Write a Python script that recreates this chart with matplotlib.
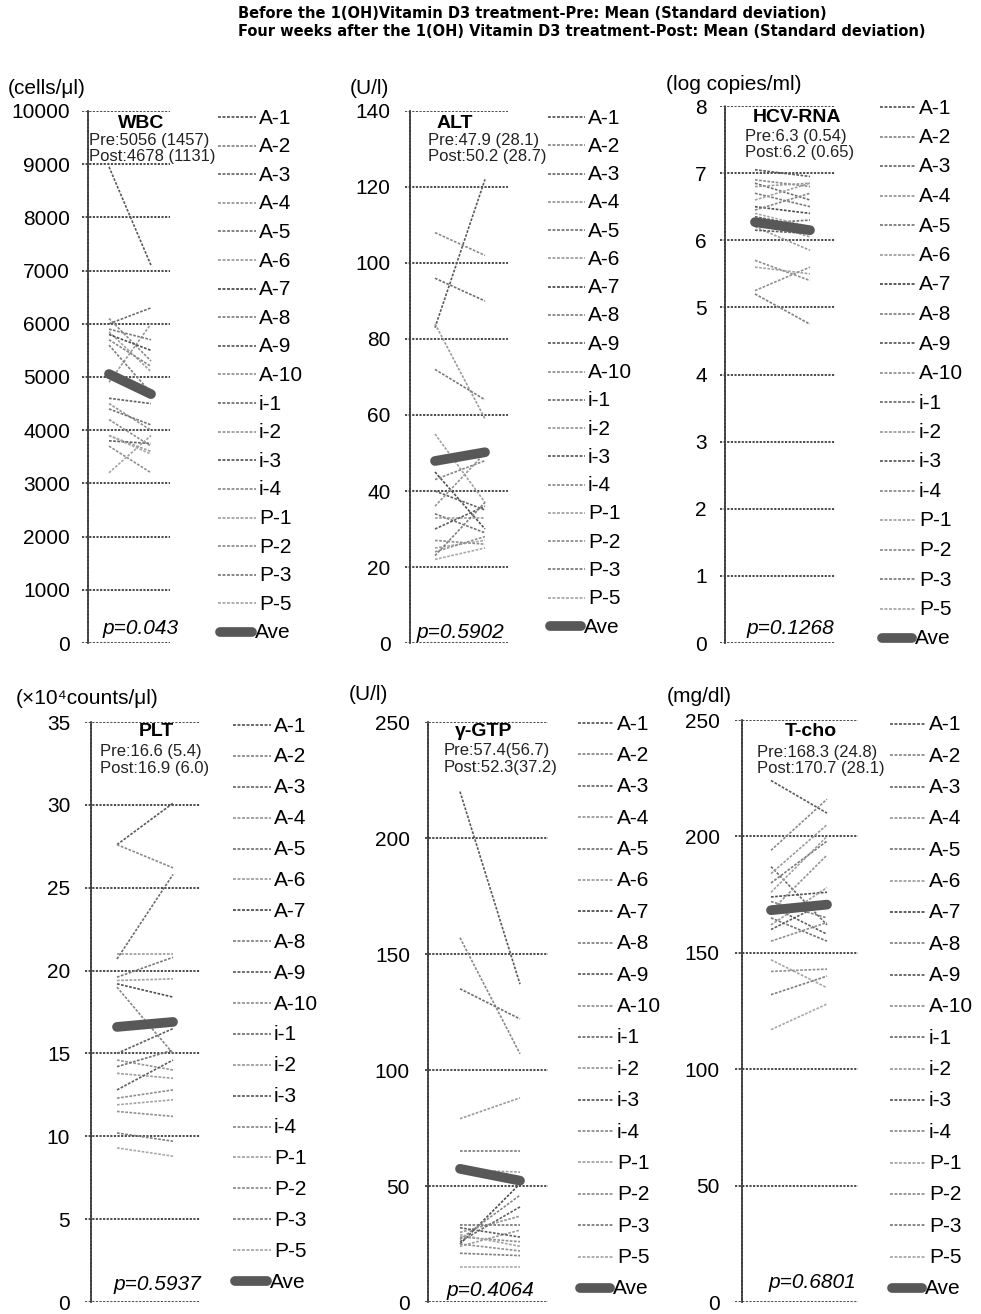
import matplotlib
matplotlib.use("Agg")
import matplotlib.pyplot as plt
from matplotlib.lines import Line2D

plt.rcParams['font.family'] = ['Liberation Sans', 'DejaVu Sans']

W, H = 981, 1314

# ---------------- data ----------------
patients = ['A-1', 'A-2', 'A-3', 'A-4', 'A-5', 'A-6', 'A-7', 'A-8', 'A-9', 'A-10',
            'i-1', 'i-2', 'i-3', 'i-4', 'P-1', 'P-2', 'P-3', 'P-5']
timepoints = ['Pre', 'Post']

wbc_pre = [8950, 6100, 6000, 4900, 5900, 5850, 5800, 5700, 4600, 4500, 4400, 3900, 3800, 3700, 3200, 4200, 5600, 3900]
wbc_post = [7100, 5300, 6300, 6000, 5700, 5100, 5500, 5200, 4500, 4000, 4100, 3600, 3750, 3200, 3900, 3700, 4700, 3550]
wbc_ave = [5056, 4678]

alt_pre = [83, 108, 96, 84, 72, 55, 45, 43, 40, 36, 34, 33, 30, 27, 25, 24, 23, 22]
alt_post = [122, 102, 90, 59, 64, 37, 30, 48, 35, 50, 29, 33, 36, 26, 27, 28, 37, 25]
alt_ave = [47.9, 50.2]

hcv_pre = [7.05, 6.9, 6.85, 6.8, 6.7, 6.6, 6.5, 6.45, 6.35, 6.3, 6.25, 6.2, 6.15, 5.7, 5.6, 5.25, 5.2, 6.4]
hcv_post = [6.95, 6.8, 6.6, 6.85, 6.5, 6.85, 6.4, 6.7, 6.2, 6.05, 6.3, 5.85, 6.1, 5.4, 5.5, 5.6, 4.75, 6.2]
hcv_ave = [6.27, 6.15]

plt_pre = [27.6, 27.6, 20.7, 21.0, 19.6, 19.4, 19.2, 19.0, 15.0, 14.6, 14.2, 13.8, 12.8, 12.3, 11.9, 11.5, 10.2, 9.3]
plt_post = [30.1, 26.2, 25.8, 21.0, 20.8, 19.5, 18.4, 15.0, 16.5, 14.0, 15.2, 13.5, 14.6, 12.8, 12.2, 11.2, 9.7, 8.8]
plt_ave = [16.6, 16.9]

gtp_pre = [220, 157, 135, 79, 65, 57, 25, 27, 26, 30, 33, 24, 32, 28, 29, 25, 21, 15]
gtp_post = [137, 107, 122, 88, 65, 56, 51, 46, 41, 37, 33, 31, 28, 26, 24, 22, 20, 15]
gtp_ave = [57.4, 52.3]

tcho_pre = [224, 194, 187, 184, 180, 176, 174, 172, 170, 168, 165, 162, 160, 155, 147, 142, 132, 117]
tcho_post = [210, 216, 162, 205, 198, 200, 176, 165, 158, 192, 155, 178, 172, 163, 135, 143, 140, 128]
tcho_ave = [168.3, 170.7]

# ---------------- helpers ----------------
fig = plt.figure(figsize=(W / 100, H / 100), dpi=100)


def fx(x):
    return x / W


def fy(y):
    return 1 - y / H


def ftext(x, y, s, **kw):
    fig.text(fx(x), fy(y), s, **kw)


grays = ['#5a5a5a', '#8a8a8a', '#6e6e6e', '#9a9a9a', '#7a7a7a', '#a0a0a0',
         '#4e4e4e', '#868686', '#606060', '#949494', '#727272', '#9c9c9c',
         '#5e5e5e', '#8e8e8e', '#a4a4a4', '#909090', '#7e7e7e', '#a8a8a8']
ls_ind = (0, (1.6, 0.9))
grid_col = '#3c3c3c'
ave_col = '#585858'


def panel(cfg):
    gl, gr, spine, xpre, xpost, ytop, ybot, ymax, ystep = cfg['geom']
    ax = fig.add_axes([fx(gl), fy(ybot), (gr - gl) / W, (ybot - ytop) / H])
    unit = xpost - xpre
    ax.set_xlim(-(xpre - gl) / unit, 1 + (gr - xpost) / unit)
    ax.set_ylim(0, ymax)
    ticks = list(range(0, int(ymax) + 1, ystep))
    ax.set_yticks(ticks)
    ax.set_yticklabels([str(t) for t in ticks])
    for s in ['top', 'right', 'bottom']:
        ax.spines[s].set_visible(False)
    ax.spines['left'].set_position(('axes', (spine - gl) / (gr - gl)))
    ax.spines['left'].set_linestyle((0, (1.2, 0.8)))
    ax.spines['left'].set_color(grid_col)
    ax.spines['left'].set_linewidth(1.3)
    ax.set_xticks([])
    ax.tick_params(axis='y', length=0, pad=cfg['pad'], labelsize=15)
    ax.yaxis.grid(True, color=grid_col, linestyle=(0, (1.2, 0.8)), linewidth=1.3)
    ax.set_axisbelow(True)
    ax.patch.set_alpha(0)
    xs = [0, 1]
    for i, (a, b) in enumerate(zip(cfg['pre'], cfg['post'])):
        ax.plot(xs, [a, b], color=grays[i], linestyle=ls_ind, linewidth=1.2,
                zorder=3, label=patients[i])
    ax.plot(xs, cfg['ave'], color=ave_col, linewidth=7, solid_capstyle='round',
            zorder=5, label='Ave')
    # unit label
    ux, uy = cfg['unit_pos']
    ftext(ux, uy, cfg['unit'], fontsize=15, ha='left', va='center')
    # title and stats
    tx, ty = cfg['title_pos']
    ftext(tx, ty, cfg['title'], fontsize=14, fontweight='bold', ha='center', va='center')
    sx, sy = cfg['stats_pos']
    ftext(sx, sy, cfg['stats'][0], fontsize=12, ha='left', va='center', color='#222222')
    ftext(sx, sy + 17, cfg['stats'][1], fontsize=12, ha='left', va='center', color='#222222')
    # p value
    px_, py_ = cfg['p_pos']
    ftext(px_, py_, cfg['p'], fontsize=15, style='italic', ha='center', va='center')
    # legend (drawn manually)
    lx0, lx1, ly0, ly1 = cfg['legend']
    n = len(patients) + 1
    step = (ly1 - ly0) / (n - 1)
    for i in range(n):
        yy = ly0 + i * step
        if i < len(patients):
            fig.add_artist(Line2D([fx(lx0), fx(lx1)], [fy(yy), fy(yy)], color=grays[i],
                                  linestyle=ls_ind, linewidth=1.3))
            ftext(lx1 + 3, yy + 1, patients[i], fontsize=15, ha='left', va='center')
        else:
            fig.add_artist(Line2D([fx(lx0 + 2), fx(lx1 - 4)], [fy(yy), fy(yy)], color=ave_col,
                                  linewidth=7, solid_capstyle='round'))
            ftext(lx1 - 1, yy + 1, 'Ave', fontsize=15, ha='left', va='center')
    return ax


panels = [
    dict(geom=(82, 170, 88, 109, 151, 111, 643, 10000, 1000), pad=13,
         pre=wbc_pre, post=wbc_post, ave=wbc_ave,
         unit='(cells/μl)', unit_pos=(8, 88),
         title='WBC', title_pos=(141, 123), stats=('Pre:5056 (1457)', 'Post:4678 (1131)'),
         stats_pos=(89, 140), p='p=0.043', p_pos=(141, 628),
         legend=(218, 256, 117, 632)),
    dict(geom=(405, 508, 410, 435, 485, 111, 643, 140, 20), pad=14,
         pre=alt_pre, post=alt_post, ave=alt_ave,
         unit='(U/l)', unit_pos=(350, 88),
         title='ALT', title_pos=(455, 123), stats=('Pre:47.9 (28.1)', 'Post:50.2 (28.7)'),
         stats_pos=(428, 140), p='p=0.5902', p_pos=(460, 632),
         legend=(548, 585, 117, 626)),
    dict(geom=(720, 835, 725, 755, 810, 106, 643, 8, 1), pad=13,
         pre=hcv_pre, post=hcv_post, ave=hcv_ave,
         unit='(log copies/ml)', unit_pos=(666, 84),
         title='HCV-RNA', title_pos=(797, 118), stats=('Pre:6.3 (0.54)', 'Post:6.2 (0.65)'),
         stats_pos=(745, 136), p='p=0.1268', p_pos=(790, 628),
         legend=(880, 916, 107, 638)),
    dict(geom=(85, 200, 91, 117, 173, 722, 1302, 35, 5), pad=15,
         pre=plt_pre, post=plt_post, ave=plt_ave,
         unit='(×10⁴counts/μl)', unit_pos=(16, 698),
         title='PLT', title_pos=(156, 732), stats=('Pre:16.6 (5.4)', 'Post:16.9 (6.0)'),
         stats_pos=(100, 751), p='p=0.5937', p_pos=(157, 1284),
         legend=(233, 271, 725, 1281)),
    dict(geom=(425, 548, 428, 460, 520, 722, 1302, 250, 50), pad=13,
         pre=gtp_pre, post=gtp_post, ave=gtp_ave,
         unit='(U/l)', unit_pos=(349, 694),
         title='γ-GTP', title_pos=(484, 731), stats=('Pre:57.4(56.7)', 'Post:52.3(37.2)'),
         stats_pos=(444, 750), p='p=0.4064', p_pos=(490, 1290),
         legend=(578, 614, 723, 1288)),
    dict(geom=(735, 858, 742, 771, 827, 720, 1302, 250, 50), pad=16,
         pre=tcho_pre, post=tcho_post, ave=tcho_ave,
         unit='(mg/dl)', unit_pos=(667, 697),
         title='T-cho', title_pos=(811, 731), stats=('Pre:168.3 (24.8)', 'Post:170.7 (28.1)'),
         stats_pos=(757, 752), p='p=0.6801', p_pos=(812, 1283),
         legend=(890, 926, 724, 1288)),
]

for cfg in panels:
    panel(cfg)

ftext(238, 14, 'Before the 1(OH)Vitamin D3 treatment-Pre: Mean (Standard deviation)',
      fontsize=10.5, fontweight='bold', ha='left', va='center', family=['DejaVu Sans'])
ftext(238, 32, 'Four weeks after the 1(OH) Vitamin D3 treatment-Post: Mean (Standard deviation)',
      fontsize=10.5, fontweight='bold', ha='left', va='center', family=['DejaVu Sans'])

fig.savefig('out.png', dpi=100)
